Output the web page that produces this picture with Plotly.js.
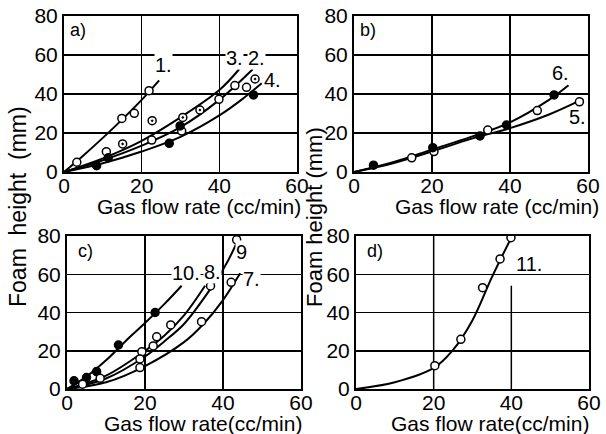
<!DOCTYPE html>
<html>
<head>
<meta charset="utf-8">
<script src="https://cdn.plot.ly/plotly-3.0.1.min.js"></script>
<style>html,body{margin:0;padding:0;background:#fff;}#chart{width:606px;height:434px;}</style>
</head>
<body>
<div id="chart"></div>
<script>
// ---------- Panel a) ----------
const a1CurveX = [0, 5, 10, 15, 20, 24.5];
const a1CurveY = [0, 8.5, 17.5, 27, 37, 47];
const a3CurveX = [0, 10, 20, 30, 40, 45.1];
const a3CurveY = [0, 7, 16, 28, 42, 52.7];
const a2CurveX = [0, 10, 20, 30, 40, 48.6];
const a2CurveY = [0, 6, 13.5, 23, 37, 52.7];
const a4CurveX = [0, 10, 20, 30, 40, 46, 50.9];
const a4CurveY = [0, 4.5, 10.5, 18, 29, 37.5, 45.5];
const a1PtsX = [3.3, 14.9, 18.1, 21.9];
const a1PtsY = [5, 27.5, 30.1, 41.7];
const a2PtsX = [10.9, 22.6, 30.3, 39.9, 44, 47];
const a2PtsY = [10.4, 16.4, 21, 37.3, 44.3, 43.4];
const a3PtsX = [15.1, 22.7, 30.6, 35, 49.2];
const a3PtsY = [14.4, 26.3, 28, 31.8, 47.7];
const a4PtsX = [8.4, 11.4, 27.1, 29.9, 48.8];
const a4PtsY = [3.2, 7.3, 14.7, 23.6, 39.5];

// ---------- Panel b) ----------
const b5CurveX = [0, 10, 20, 30, 40, 50, 58.8];
const b5CurveY = [0, 4.5, 10.5, 17, 22.5, 29.5, 37.5];
const b6CurveX = [0, 10, 20, 30, 40, 50, 55];
const b6CurveY = [0, 5, 11.5, 18, 25.5, 37, 44.5];
const b5PtsX = [14.8, 20.5, 34.3, 47, 57.8];
const b5PtsY = [7.3, 10.5, 21.5, 31.5, 36];
const b6PtsX = [5, 20.2, 32.3, 39.1, 51.3];
const b6PtsY = [3.5, 12.5, 18.5, 24.1, 39.5];

// ---------- Panel c) ----------
const c10CurveX = [0, 5, 10, 15, 20, 25, 29.4];
const c10CurveY = [0, 6.5, 15, 25, 34.5, 44.5, 54];
const c8CurveX = [0, 10, 20, 25, 30, 35.4];
const c8CurveY = [0, 7, 20, 28, 38.5, 54];
const c9CurveX = [0, 10, 20, 25, 30, 37, 41, 44.3];
const c9CurveY = [0, 5.5, 17, 25, 34, 53, 66, 80];
const c7CurveX = [0, 10, 20, 30, 35, 40, 44.4];
const c7CurveY = [0, 3.5, 12, 24.5, 34, 46.5, 60.5];
const c10PtsX = [1.8, 5, 7.6, 13.2, 22.6];
const c10PtsY = [4.3, 6, 9.1, 23, 40];
const c89PtsX = [4, 8.5, 19.2, 22.1, 23, 26.6, 36.8, 43.5];
const c89PtsY = [2.5, 5.6, 19.5, 22.5, 27.3, 33.5, 53.9, 78];
const c7PtsX = [18.7, 18.7, 34.5, 42.1];
const c7PtsY = [11.2, 15.7, 35.2, 55.8];

// ---------- Panel d) ----------
const d11CurveX = [0, 10, 20, 25, 30, 35, 40.2];
const d11CurveY = [0, 3.5, 11, 20.5, 36, 58.5, 80];
const d11PtsX = [20.3, 27, 32.6, 37.1, 39.9];
const d11PtsY = [12.2, 26, 53, 68, 79.1];

// ---------- Ticks / labels ----------
const xTicks = [0, 20, 40, 60];
const yTicks = [0, 20, 40, 60, 80];
const xTitleTop = 'Gas flow rate (cc/min)';
const xTitleBottom = 'Gas flow rate(cc/min)';
const yTitle = 'Foam height (mm)';

const FONT = 'Liberation Sans, Arial, sans-serif';

function curve(x, y, ax) {
  return {x: x, y: y, xaxis: 'x' + ax, yaxis: 'y' + ax, mode: 'lines',
    line: {color: 'black', width: 2, shape: 'spline', smoothing: 1}, hoverinfo: 'skip', showlegend: false};
}
function pts(x, y, ax, sym, fill) {
  return {x: x, y: y, xaxis: 'x' + ax, yaxis: 'y' + ax, mode: 'markers',
    marker: {symbol: sym, size: 8, color: fill, line: {color: 'black', width: 1.5}}, showlegend: false};
}

const traces = [
  curve(a1CurveX, a1CurveY, ''), curve(a2CurveX, a2CurveY, ''), curve(a3CurveX, a3CurveY, ''), curve(a4CurveX, a4CurveY, ''),
  pts(a1PtsX, a1PtsY, '', 'circle', 'white'), pts(a2PtsX, a2PtsY, '', 'circle', 'white'),
  pts(a3PtsX, a3PtsY, '', 'circle-dot', 'white'), pts(a4PtsX, a4PtsY, '', 'circle', 'black'),
  curve(b5CurveX, b5CurveY, '2'), curve(b6CurveX, b6CurveY, '2'),
  pts(b5PtsX, b5PtsY, '2', 'circle', 'white'), pts(b6PtsX, b6PtsY, '2', 'circle', 'black'),
  curve(c10CurveX, c10CurveY, '3'), curve(c8CurveX, c8CurveY, '3'), curve(c9CurveX, c9CurveY, '3'), curve(c7CurveX, c7CurveY, '3'),
  pts(c10PtsX, c10PtsY, '3', 'circle', 'black'), pts(c89PtsX, c89PtsY, '3', 'circle', 'white'), pts(c7PtsX, c7PtsY, '3', 'circle', 'white'),
  curve(d11CurveX, d11CurveY, '4'),
  pts(d11PtsX, d11PtsY, '4', 'circle', 'white')
];

function xa(dom, anchor, grid) {
  return {domain: dom, anchor: anchor, range: [0, 60], tickvals: xTicks, showgrid: grid !== false,
    gridcolor: 'black', gridwidth: 1.5, showline: true, linecolor: 'black', linewidth: 2, mirror: true,
    zeroline: false, ticks: '', ticklabelstandoff: -6, tickfont: {family: FONT, size: 21, color: 'black'}, fixedrange: true};
}
function ya(dom, anchor) {
  return {domain: dom, anchor: anchor, range: [0, 80], tickvals: yTicks, showgrid: true,
    gridcolor: 'black', gridwidth: 1.5, showline: true, linecolor: 'black', linewidth: 2, mirror: true,
    zeroline: false, ticks: '', tickfont: {family: FONT, size: 21, color: 'black'}, fixedrange: true};
}

const topY = [1 - 172/434, 1 - 16/434];
const botY = [1 - 389/434, 1 - 236/434];

function lab(text, x, y, ax, size, opts) {
  return Object.assign({text: text, x: x, y: y, xref: 'x' + ax, yref: 'y' + ax, showarrow: false,
    font: {family: FONT, size: size || 20, color: 'black'}, bgcolor: 'white', borderpad: 0}, opts || {});
}
function paperLab(text, px, py, size, angle) {
  return {text: text, x: px/606, y: 1 - py/434, xref: 'paper', yref: 'paper', showarrow: false,
    xanchor: 'center', yanchor: 'middle', textangle: angle || 0,
    font: {family: FONT, size: size, color: 'black'}};
}

const annotations = [
  lab('a)', 1.2, 73, '', 18, {xanchor: 'left'}),
  lab('1.', 25.5, 55, '', 20),
  lab('3.', 44, 58.5, '', 20),
  lab('2.', 49.5, 58.5, '', 20),
  lab('4.', 53.6, 47, '', 20),
  lab('b)', 1.2, 73, '2', 18, {xanchor: 'left'}),
  lab('6.', 53, 51, '2', 20),
  lab('5.', 57.3, 28, '2', 20, {bgcolor: 'rgba(0,0,0,0)'}),
  lab('c)', 2.5, 72, '3', 18, {xanchor: 'left'}),
  lab('10.', 30.5, 60.5, '3', 20),
  lab('8.', 37.3, 61, '3', 20),
  lab('9', 44.7, 71.5, '3', 20),
  lab('7.', 47.3, 57.5, '3', 20),
  lab('d)', 2.5, 72, '4', 18, {xanchor: 'left'}),
  lab('11.', 41, 65.5, '4', 20, {xanchor: 'left', bgcolor: 'rgba(0,0,0,0)'}),
  paperLab(xTitleTop, 199, 206, 21),
  paperLab(xTitleTop, 497, 206, 21),
  paperLab(xTitleBottom, 203, 423, 21),
  paperLab(xTitleBottom, 490, 423, 21),
  paperLab('Foam  height  (mm)', 18, 207, 23, -90),
  paperLab(yTitle, 314, 217, 22, -90)
];

const shapes = [
  {type: 'line', xref: 'x4', yref: 'y4', x0: 20, x1: 20, y0: 0, y1: 80, line: {color: 'black', width: 1.5}, layer: 'below'},
  {type: 'line', xref: 'x4', yref: 'y4', x0: 40, x1: 40, y0: 0, y1: 54, line: {color: 'black', width: 1.5}, layer: 'below'}
];

const layout = {
  width: 606, height: 434, margin: {l: 0, r: 0, t: 0, b: 0},
  paper_bgcolor: 'white', plot_bgcolor: 'white', showlegend: false,
  font: {family: FONT, color: 'black'},
  xaxis: xa([64/606, 297/606], 'y'), yaxis: ya(topY, 'x'),
  xaxis2: xa([354/606, 588/606], 'y2'), yaxis2: ya(topY, 'x2'),
  xaxis3: xa([67/606, 301/606], 'y3'), yaxis3: ya(botY, 'x3'),
  xaxis4: xa([356/606, 589/606], 'y4', false), yaxis4: ya(botY, 'x4'),
  annotations: annotations, shapes: shapes
};

Plotly.newPlot('chart', traces, layout, {displayModeBar: false, staticPlot: true});
</script>
</body>
</html>
